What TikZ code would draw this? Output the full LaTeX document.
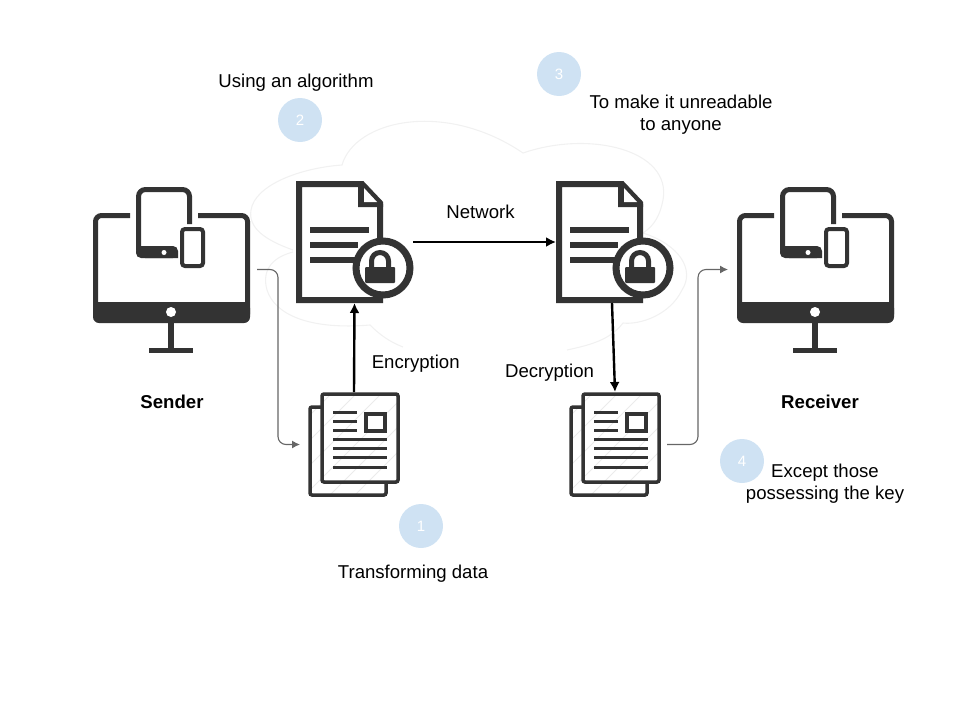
\documentclass[tikz,border=0pt]{standalone}
\usepackage{fontspec}
\setmainfont{Liberation Sans}
\usetikzlibrary{arrows.meta}
\definecolor{icon}{HTML}{333333}
\definecolor{badge}{HTML}{CFE2F3}
\definecolor{cloudline}{HTML}{F1F1F1}
\definecolor{hatch}{HTML}{EBEBEB}
\tikzset{
    monitor/.pic={
        \begin{scope}[shift={(-171.5,-269.5)},icon]
            \draw [line width=5,rounded corners=6] (130,215.5) -- (95.5,215.5) -- (95.5,320) -- (247.5,320) -- (247.5,215.5) -- (198,215.5);
            \fill [rounded corners=6] (93,302) -- (250,302) -- (250,323) -- (93,323) -- cycle;
            \fill [white] (171,312) circle (5);
            \fill (168,323) rectangle (174,350);
            \fill (149,348) rectangle (193,353);
            \draw [line width=5,rounded corners=7] (178,255.5) -- (138.5,255.5) -- (138.5,189.5) -- (189.5,189.5) -- (189.5,224);
            \fill [rounded corners=5] (136,258) -- (136,246) -- (178,246) -- (178,258) -- cycle;
            \fill [white] (164,252.5) circle (2.5);
            \draw [line width=4,rounded corners=3] (182,229) rectangle (203,266);
        \end{scope}
    },
    lockdoc/.pic={
        \begin{scope}[shift={(-354.5,-242)},icon]
            \draw [line width=6,miter limit=3] (299,184) -- (362,184) -- (380,203) -- (380,300) -- (299,300) -- cycle;
            \fill (358,184) -- (363,184) -- (383,204) -- (383,207) -- (358,207) -- cycle;
            \fill [white] (364,188) -- (377,202) -- (364,202) -- cycle;
            \foreach \liney/\lineend in {230/369,245/358,260/358}
                \fill (310,\liney-3) rectangle (\lineend,\liney+3);
            \draw [line width=7,fill=white] (383,268) circle (27);
            \fill [rounded corners=1] (365,267) rectangle (395,283);
            \draw [line width=5] (371.5,268) -- (371.5,261) arc (180:360:8.5) -- (388.5,268);
        \end{scope}
    },
    stackpage/.pic={
        \begin{scope}[shift={(-354,-444.5)},icon]
            \fill [white] (310,407) rectangle (386,495);
            \fill [white] (322,394) rectangle (398,482);
            \begin{scope}
                \clip (310,394) rectangle (398,495);
                \foreach \hatchx in {320,345,...,470}
                    \draw [hatch,line width=1] (\hatchx,380) -- (\hatchx-120,500);
            \end{scope}
            \draw [line width=3.5,rounded corners=2] (322,407) -- (310,407) -- (310,495) -- (386,495) -- (386,482);
            \draw [line width=3.5,rounded corners=2] (322,394) rectangle (398,482);
            \foreach \liney in {412,421,430}
                \draw [line width=3] (333,\liney) -- (357,\liney);
            \draw [line width=3.5,fill=white] (366,414) rectangle (385,431);
            \foreach \liney in {439,448,457,467}
                \draw [line width=3] (333,\liney) -- (387,\liney);
        \end{scope}
    }
}
\begin{document}
\begin{tikzpicture}[x=1pt,y=-1pt,font=\fontsize{18.6}{22}\selectfont]
    \tikzstyle{iconbox} = [rectangle,inner sep=0pt,outer sep=0pt]
    \tikzstyle{badgeball} = [circle,fill=badge,text=white,minimum size=44pt,inner sep=0pt,font=\fontsize{15}{18}\selectfont]
    \tikzstyle{caption} = [align=center,inner sep=0pt]
    \tikzstyle{flow} = [-{Latex[length=10pt,width=10pt]},black,line width=2.4pt]
    \tikzstyle{handover} = [-{Latex[length=8pt,width=8pt]},black!60,line width=1.1pt,rounded corners=8pt]
    \useasboundingbox (0,0) rectangle (960,720);
    % cloud behind the icons
    \draw [cloudline,line width=1.1pt] (293,250) .. controls (265,240) and (248,228) .. (251,210)
        .. controls (255,185) and (300,168) .. (342,165)
        .. controls (355,120) and (445,100) .. (523,153)
        .. controls (590,130) and (672,150) .. (663,200)
        .. controls (660,215) and (655,225) .. (643,233)
        .. controls (680,245) and (695,270) .. (682,290)
        .. controls (670,315) and (640,325) .. (623,323)
        .. controls (610,340) and (590,345) .. (567,350);
    \draw [cloudline,line width=1.1pt] (293,252) .. controls (270,258) and (262,272) .. (267,290)
        .. controls (275,315) and (310,330) .. (370,325)
        .. controls (380,335) and (390,342) .. (403,347);
    % icons
    \node (senderPC) [iconbox,minimum width=157pt,minimum height=165pt] at (171.5,269.5) {};
    \node (receiverPC) [iconbox,minimum width=157pt,minimum height=165pt] at (815.5,269.5) {};
    \node (lockDocA) [iconbox,minimum width=117pt,minimum height=122pt] at (354.5,242) {};
    \node (lockDocB) [iconbox,minimum width=117pt,minimum height=122pt] at (614.5,242) {};
    \node (pageA) [iconbox,minimum width=92pt,minimum height=105pt] at (354,444.5) {};
    \node (pageB) [iconbox,minimum width=92pt,minimum height=105pt] at (615,444.5) {};
    \pic at (senderPC.center) {monitor};
    \pic at (receiverPC.center) {monitor};
    \pic at (lockDocA.center) {lockdoc};
    \pic at (lockDocB.center) {lockdoc};
    \pic at (pageA.center) {stackpage};
    \pic at (pageB.center) {stackpage};
    % numbered badges
    \node (badgeOne) [badgeball] at (421,526) {1};
    \node (badgeTwo) [badgeball] at (300,120) {2};
    \node (badgeThree) [badgeball] at (559,74) {3};
    \node (badgeFour) [badgeball] at (742,461) {4};
    % texts
    \node (senderName) [caption,font=\fontsize{18.6}{22}\selectfont\bfseries] at (172,402) {Sender};
    \node (receiverName) [caption,font=\fontsize{18.6}{22}\selectfont\bfseries] at (820,402) {Receiver};
    \node (algoText) [caption] at (296,83) {Using an algorithm};
    \node (unreadText) [caption] at (681,115) {To make it unreadable\\to anyone};
    \node (keyText) [caption] at (825,483.5) {Except those\\possessing the key};
    \node (transformText) [caption] at (413,573.5) {Transforming data};
    % connectors
    \coordinate (senderBend) at (278,350);
    \coordinate (receiverBend) at (698,350);
    \draw [handover,shorten <=7pt,shorten >=8pt] (senderPC.east) -| (senderBend) |- (pageA.west);
    \draw [handover,shorten <=6pt,shorten >=9pt] (pageB.east) -| (receiverBend) |- (receiverPC.west);
    \draw [flow] (pageA.north) -- node [anchor=west,xshift=13pt,yshift=-16pt]{Encryption} (lockDocA.south);
    \draw [flow] (lockDocA.east) -- node [anchor=south,xshift=-4pt,yshift=19pt]{Network} (lockDocB.west);
    \draw [flow] ([xshift=-2.5pt]lockDocB.south) -- node [anchor=east,xshift=-15pt,yshift=-25pt]{Decryption} (pageB.north);
\end{tikzpicture}
\end{document}
